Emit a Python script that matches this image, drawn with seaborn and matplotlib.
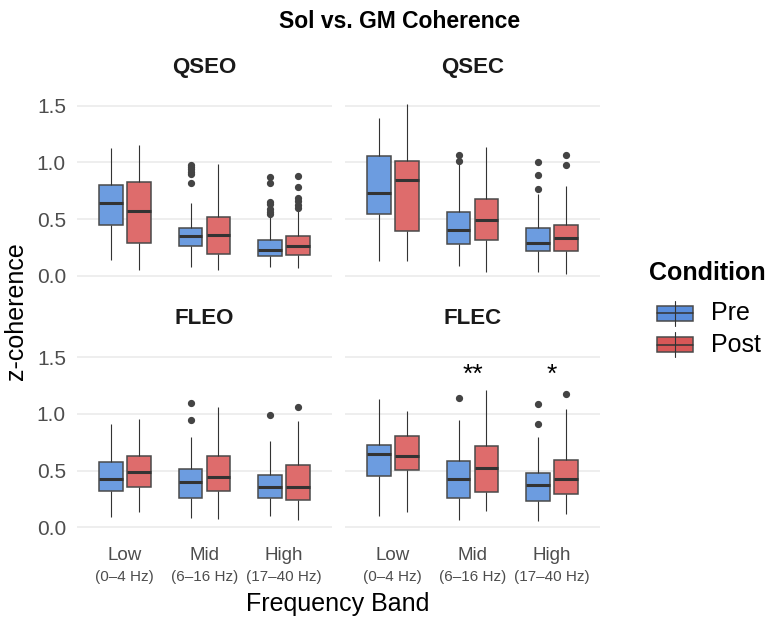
import numpy as np
import pandas as pd
import matplotlib
matplotlib.use("Agg")
import matplotlib.pyplot as plt
from matplotlib.patches import Rectangle
from matplotlib.lines import Line2D
import seaborn as sns

# ---- data -------------------------------------------------------------
panels = ["QSEO", "QSEC", "FLEO", "FLEC"]
bands = ["Low", "Mid", "High"]
band_ranges = ["(0–4 Hz)", "(6–16 Hz)", "(17–40 Hz)"]
conditions = ["Pre", "Post"]

# Box summaries per panel, ordered
# Low-Pre, Low-Post, Mid-Pre, Mid-Post, High-Pre, High-Post
whisker_lo = {
    "QSEO": [0.140, 0.053, 0.074, 0.047, 0.076, 0.065],
    "QSEC": [0.132, 0.132, 0.085, 0.035, 0.035, 0.018],
    "FLEO": [0.094, 0.135, 0.085, 0.074, 0.097, 0.068],
    "FLEC": [0.103, 0.135, 0.068, 0.144, 0.059, 0.118],
}
quart_1 = {
    "QSEO": [0.450, 0.290, 0.259, 0.194, 0.176, 0.185],
    "QSEC": [0.547, 0.391, 0.279, 0.318, 0.215, 0.221],
    "FLEO": [0.318, 0.356, 0.262, 0.318, 0.262, 0.241],
    "FLEC": [0.456, 0.509, 0.262, 0.312, 0.235, 0.291],
}
medians = {
    "QSEO": [0.644, 0.570, 0.347, 0.359, 0.224, 0.265],
    "QSEC": [0.726, 0.844, 0.403, 0.491, 0.288, 0.329],
    "FLEO": [0.426, 0.488, 0.397, 0.444, 0.353, 0.359],
    "FLEC": [0.647, 0.626, 0.426, 0.524, 0.371, 0.426],
}
quart_3 = {
    "QSEO": [0.800, 0.830, 0.424, 0.518, 0.315, 0.347],
    "QSEC": [1.059, 1.012, 0.565, 0.679, 0.424, 0.450],
    "FLEO": [0.576, 0.626, 0.518, 0.626, 0.465, 0.550],
    "FLEC": [0.729, 0.806, 0.585, 0.720, 0.479, 0.594],
}
whisker_hi = {
    "QSEO": [1.130, 1.150, 0.644, 0.988, 0.515, 0.570],
    "QSEC": [1.388, 1.515, 0.985, 1.138, 0.720, 0.790],
    "FLEO": [0.915, 0.953, 0.800, 1.065, 0.759, 0.941],
    "FLEC": [1.135, 1.029, 0.944, 1.215, 0.794, 1.045],
}
outliers = {
    "QSEO": [[], [], [0.976, 0.956, 0.938, 0.918, 0.894, 0.818], [],
             [0.874, 0.820, 0.653, 0.630, 0.588, 0.565, 0.545],
             [0.880, 0.785, 0.682, 0.659, 0.624, 0.600]],
    "QSEC": [[], [], [1.065, 1.012], [], [1.006, 0.888, 0.768], [1.065, 0.974]],
    "FLEO": [[], [], [1.100, 0.947], [], [0.994], [1.065]],
    "FLEC": [[], [], [1.141], [], [1.091, 0.912], [1.179]],
}

# significance marks (Pre vs Post)
sig_panel = "FLEC"
sig_bands = ["Mid", "High"]
sig_marks = ["**", "*"]
sig_y = [1.34, 1.34]

# ---- long table for seaborn -------------------------------------------
# Each summary is expanded into an equally weighted sample whose quartiles,
# median and whisker ends are the values above; outliers are appended.
REP = 40
rows = []
for p in panels:
    k = 0
    for b in bands:
        for c in conditions:
            vals = ([whisker_lo[p][k]] * REP + [quart_1[p][k]] * REP +
                    [medians[p][k]] * REP + [quart_3[p][k]] * REP +
                    [whisker_hi[p][k]] * REP + list(outliers[p][k]))
            rows.extend({"panel": p, "band": b, "condition": c, "z": v} for v in vals)
            k += 1
df = pd.DataFrame(rows)

# ---- styling ----------------------------------------------------------
sns.set_style("white")
plt.rcParams["font.family"] = ["Liberation Sans", "DejaVu Sans"]

box_colors = {"Pre": "#6C9CE0", "Post": "#DE6C6C"}
key_colors = {"Pre": "#5A8EDC", "Post": "#D85757"}
edge_col = "#4A4A4A"
line_col = "#333333"
grid_col = "#EBEBEB"
tick_col = "#4D4D4D"

W, H = 769, 619
fig = plt.figure(figsize=(W / 100, H / 100), dpi=100)


def px_axes(x0, y0, w, h):
    return fig.add_axes([x0 / W, 1 - (y0 + h) / H, w / W, h / H])


col_x = [77, 345]
row_y = [95.5, 347]
pw, ph = 255, 186.7

for idx, p in enumerate(panels):
    r, c = divmod(idx, 2)
    ax = px_axes(col_x[c], row_y[r], pw, ph)
    sub = df[df["panel"] == p]
    sns.boxplot(
        data=sub, x="band", y="z", hue="condition",
        order=bands, hue_order=conditions, palette=box_colors,
        saturation=1, width=0.7, gap=0.15, whis=1.5,
        linewidth=1.1, linecolor=edge_col, showcaps=False,
        legend=False, ax=ax,
        boxprops=dict(edgecolor=edge_col, linewidth=1.1),
        medianprops=dict(color=line_col, linewidth=2.2),
        whiskerprops=dict(color=line_col, linewidth=0.8),
        flierprops=dict(marker="o", markerfacecolor="#444444",
                        markeredgecolor="#444444", markersize=4.2),
    )
    ax.set_xlim(-0.6, 2.6)
    ax.set_ylim(-0.057, 1.59)
    ax.set_xlabel("")
    ax.set_ylabel("")
    ax.set_yticks([0, 0.5, 1.0, 1.5])
    if c == 0:
        ax.set_yticklabels(["0.0", "0.5", "1.0", "1.5"])
    else:
        ax.set_yticklabels([])
    ax.set_xticks(range(len(bands)))
    ax.set_xticklabels([])
    ax.tick_params(length=0, labelsize=15, labelcolor=tick_col, pad=8)
    ax.grid(axis="y", color=grid_col, linewidth=1.2)
    ax.grid(axis="x", visible=False)
    ax.set_axisbelow(True)
    for s in ax.spines.values():
        s.set_visible(False)

    ax.annotate(p, xy=(0.5, 1), xycoords="axes fraction",
                xytext=(0, 20.5), textcoords="offset points",
                ha="center", va="center", fontsize=16, fontweight="bold",
                color="#1A1A1A")

    if r == 1:
        for i, (b, rng) in enumerate(zip(bands, band_ranges)):
            ax.annotate(b, xy=(i, 0), xycoords=("data", "axes fraction"),
                        xytext=(0, -15.5), textcoords="offset points",
                        ha="center", va="center", fontsize=13.5, color=tick_col)
            ax.annotate(rng, xy=(i, 0), xycoords=("data", "axes fraction"),
                        xytext=(0, -31.5), textcoords="offset points",
                        ha="center", va="center", fontsize=11, color=tick_col)

    if p == sig_panel:
        for b, m, yv in zip(sig_bands, sig_marks, sig_y):
            ax.text(bands.index(b), yv, m, ha="center", va="center",
                    fontsize=19, color="black")

# ---- titles -----------------------------------------------------------
fig.text(400 / W, 1 - 21 / H, "Sol vs. GM Coherence", ha="center", va="center",
         fontsize=16.5, fontweight="bold", color="black")
fig.text(16 / W, 1 - 311 / H, "z-coherence", rotation=90, ha="center",
         va="center", fontsize=18, color="black")
fig.text(338 / W, 1 - 604 / H, "Frequency Band", ha="center", va="center",
         fontsize=18, color="black")

# ---- legend -----------------------------------------------------------
lg = fig.add_axes([0, 0, 1, 1])
lg.set_xlim(0, W)
lg.set_ylim(H, 0)
lg.axis("off")
lg.patch.set_alpha(0)
lg.text(649, 273, "Condition", ha="left", va="center", fontsize=18,
        fontweight="bold", color="black")
for i, cond in enumerate(conditions):
    yc = 313.3 + i * 31.2
    lg.add_line(Line2D([675, 675], [yc - 12.5, yc + 12.5], color=line_col, lw=0.8))
    lg.add_patch(Rectangle((657.3, yc - 7.7), 35.4, 15.4,
                           facecolor=key_colors[cond], edgecolor=edge_col, lw=1.1))
    lg.add_line(Line2D([657.3, 692.7], [yc, yc], color=line_col, lw=1.1))
    lg.text(711, yc, cond, ha="left", va="center", fontsize=18, color="black")

fig.savefig("out.png", dpi=100, facecolor="white")
